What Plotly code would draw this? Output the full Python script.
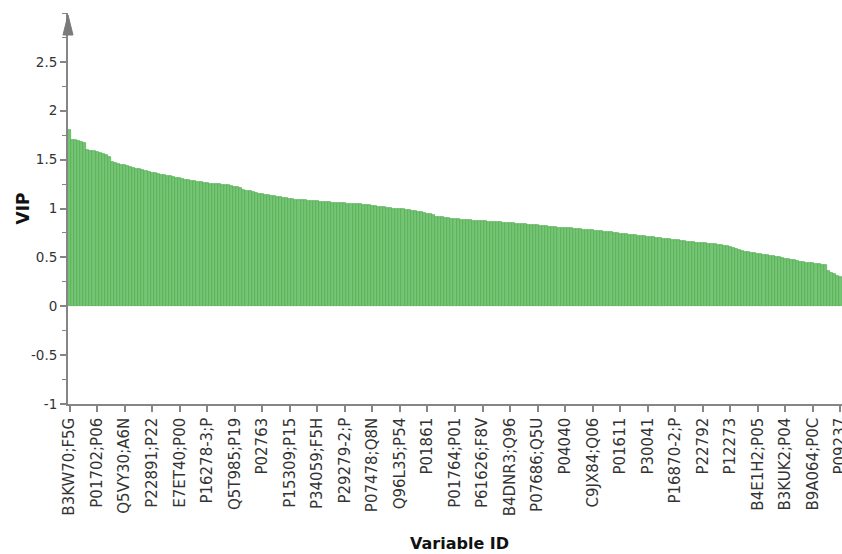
import plotly.graph_objects as go

# VIP values, sorted descending
vip_values = [
    1.80, 1.70, 1.70, 1.69, 1.68, 1.67, 1.60, 1.59, 1.59, 1.58,
    1.57, 1.56, 1.55, 1.53, 1.48, 1.47, 1.46, 1.45, 1.44, 1.43,
    1.42, 1.41, 1.40, 1.40, 1.39, 1.38, 1.37, 1.365, 1.36, 1.35,
    1.345, 1.34, 1.335, 1.33, 1.32, 1.315, 1.31, 1.30, 1.295, 1.29,
    1.285, 1.28, 1.275, 1.27, 1.265, 1.26, 1.255, 1.255, 1.25, 1.25,
    1.245, 1.24, 1.24, 1.235, 1.225, 1.22, 1.205, 1.19, 1.18, 1.175,
    1.165, 1.16, 1.15, 1.145, 1.14, 1.135, 1.13, 1.125, 1.12, 1.115,
    1.11, 1.105, 1.10, 1.095, 1.09, 1.088, 1.085, 1.083, 1.08, 1.078,
    1.075, 1.072, 1.07, 1.067, 1.065, 1.063, 1.06, 1.058, 1.056, 1.054,
    1.052, 1.05, 1.048, 1.046, 1.045, 1.042, 1.04, 1.036, 1.032, 1.028,
    1.024, 1.02, 1.016, 1.012, 1.008, 1.004, 1.00, 0.997, 0.993, 0.99,
    0.985, 0.98, 0.976, 0.972, 0.967, 0.962, 0.955, 0.948, 0.94, 0.93,
    0.918, 0.912, 0.908, 0.903, 0.899, 0.895, 0.891, 0.888, 0.886, 0.884,
    0.881, 0.879, 0.877, 0.875, 0.872, 0.87, 0.868, 0.866, 0.864, 0.862,
    0.86, 0.858, 0.856, 0.854, 0.852, 0.849, 0.846, 0.843, 0.84, 0.838,
    0.836, 0.834, 0.832, 0.829, 0.826, 0.822, 0.819, 0.815, 0.811, 0.808,
    0.805, 0.803, 0.80, 0.798, 0.796, 0.793, 0.79, 0.788, 0.785, 0.782,
    0.78, 0.776, 0.772, 0.769, 0.765, 0.762, 0.758, 0.755, 0.751, 0.747,
    0.744, 0.74, 0.737, 0.733, 0.73, 0.726, 0.722, 0.719, 0.715, 0.711,
    0.707, 0.704, 0.70, 0.696, 0.692, 0.689, 0.685, 0.681, 0.677, 0.673,
    0.669, 0.665, 0.661, 0.658, 0.655, 0.652, 0.648, 0.645, 0.642, 0.638,
    0.635, 0.632, 0.628, 0.624, 0.621, 0.615, 0.607, 0.598, 0.59, 0.58,
    0.57, 0.56, 0.55, 0.545, 0.54, 0.535, 0.53, 0.525, 0.52, 0.515,
    0.51, 0.505, 0.50, 0.494, 0.488, 0.482, 0.476, 0.47, 0.464, 0.457,
    0.452, 0.447, 0.443, 0.438, 0.434, 0.43, 0.425, 0.42, 0.36, 0.34,
    0.325, 0.31, 0.30,
]

# Every 9th variable is labelled on the x axis
tick_labels = [
    "B3KW70;F5G", "P01702;P06", "Q5VY30;A6N", "P22891;P22", "E7ET40;P00",
    "P16278-3;P", "Q5T985;P19", "P02763", "P15309;P15", "P34059;F5H",
    "P29279-2;P", "P07478;Q8N", "Q96L35;P54", "P01861", "P01764;P01",
    "P61626;F8V", "B4DNR3;Q96", "P07686;Q5U", "P04040", "C9JX84;Q06",
    "P01611", "P30041", "P16870-2;P", "P22792", "P12273",
    "B4E1H2;P05", "B3KUK2;P04", "B9A064;P0C", "P09237",
]
label_step = 9

y_tick_vals = [-1, -0.5, 0, 0.5, 1, 1.5, 2, 2.5]
y_tick_text = ["-1", "-0.5", "0", "0.5", "1", "1.5", "2", "2.5"]

x_index = list(range(len(vip_values)))
x_tick_vals = [i * label_step for i in range(len(tick_labels))]

AXIS = "#858585"
FONT = "DejaVu Sans"

fig = go.Figure(
    go.Bar(
        x=x_index,
        y=vip_values,
        marker=dict(color="#76c476", line=dict(color="#4fae4f", width=0.7)),
        hoverinfo="x+y",
    )
)

fig.update_layout(
    width=842,
    height=554,
    margin=dict(l=68, r=0, t=13, b=150, pad=0, autoexpand=False),
    paper_bgcolor="white",
    plot_bgcolor="white",
    bargap=0,
    showlegend=False,
    font=dict(family=FONT, color="#333333"),
)

fig.update_xaxes(
    range=[-0.5, len(vip_values) - 0.5],
    tickmode="array",
    tickvals=x_tick_vals,
    ticktext=tick_labels,
    tickangle=-90,
    tickfont=dict(family=FONT, size=15, color="#333333"),
    ticks="outside",
    ticklen=6,
    tickwidth=1.5,
    tickcolor=AXIS,
    showline=True,
    linecolor=AXIS,
    linewidth=1.5,
    showgrid=False,
    zeroline=False,
    ticklabeloverflow="allow",
    automargin=False,
    fixedrange=True,
)

fig.update_yaxes(
    range=[-1, 3.0],
    tickmode="array",
    tickvals=y_tick_vals,
    ticktext=y_tick_text,
    tickfont=dict(family=FONT, size=13.5, color="#333333"),
    ticks="outside",
    ticklen=6,
    tickwidth=1.5,
    tickcolor=AXIS,
    minor=dict(dtick=0.25, tick0=0, ticks="outside", ticklen=4, tickwidth=1, tickcolor=AXIS),
    showline=True,
    linecolor=AXIS,
    linewidth=2,
    showgrid=False,
    zeroline=False,
    automargin=False,
    fixedrange=True,
)

# Arrow head on top of the y axis
fig.add_shape(
    type="path",
    xref="paper", yref="y",
    xsizemode="pixel", ysizemode="pixel",
    xanchor=0, yanchor=3.0,
    path="M -5 -22 L 0 -2 L 5 -22 Z",
    fillcolor="#7a7a7a",
    line=dict(color="#7a7a7a", width=1),
    layer="above",
)

fig.add_annotation(
    text="<b>VIP</b>", textangle=-90,
    xref="paper", x=0, xanchor="center", xshift=-46,
    yref="y", y=1.0, yanchor="middle",
    showarrow=False, font=dict(family=FONT, size=17, color="#111111"),
)
fig.add_annotation(
    text="<b>Variable ID</b>",
    xref="paper", x=0.5, xanchor="center", xshift=4,
    yref="paper", y=0, yanchor="middle", yshift=-139,
    showarrow=False, font=dict(family=FONT, size=16, color="#111111"),
)

# Let the figure fill the window exactly (no default body margin, no scrollbars)
fig.write_html(
    "out.html",
    config={"displayModeBar": False},
    post_script="document.body.style.margin='0';document.body.style.overflow='hidden';",
)
